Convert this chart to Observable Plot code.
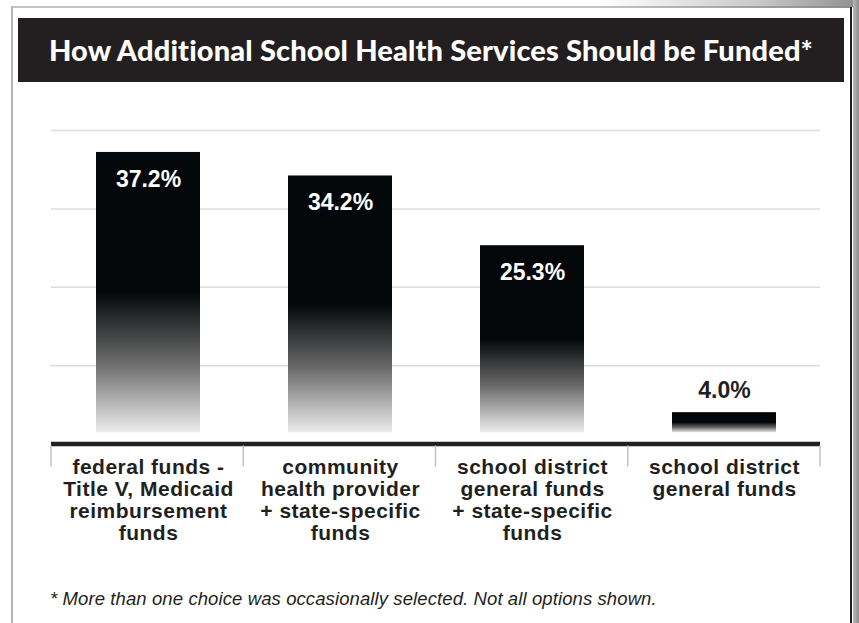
<!DOCTYPE html>
<html><head><meta charset="utf-8">
<script src="https://cdn.jsdelivr.net/npm/d3@7"></script>
<script src="https://cdn.jsdelivr.net/npm/@observablehq/plot@0.6"></script>
<style>
html,body{margin:0;padding:0;background:#fff;}
#page{position:relative;width:859px;height:623px;overflow:hidden;background:#fff;font-family:"Liberation Sans",Arial,sans-serif;}
.fr{position:absolute;}
#topline{left:11px;top:6px;width:841px;height:2px;background:linear-gradient(to right,#c4c4c4 0%,#c4c4c4 70%,#8a8a8a 100%);}
#topshadow{left:600px;top:0;width:259px;height:7px;background:linear-gradient(to right,rgba(150,150,150,0) 0%,rgba(150,150,150,0.5) 60%,#8f8f8f 100%);}
#leftline{left:11px;top:6px;width:2px;height:617px;background:#b4b4b4;}
#rightline{left:850px;top:7px;width:2px;height:616px;background:#1e1e1e;}
#rightshadow{left:853px;top:0;width:6px;height:623px;background:linear-gradient(to right,#b8b8b8,#8c8c8c);}
#title{position:absolute;left:18px;top:18px;width:826px;height:64px;background:#231f20;color:#fff;
  font-family:Lato,"Open Sans",sans-serif;font-weight:900;font-size:29px;line-height:64px;text-align:center;letter-spacing:0.15px;}
#chart{position:absolute;left:0;top:100px;}
#chart g[aria-label="x-axis tick label"] text{letter-spacing:0.5px;}
#note{position:absolute;left:50px;top:589px;font-family:"Liberation Sans",Arial,sans-serif;font-style:italic;font-size:18.5px;line-height:20px;letter-spacing:0.1px;color:#231f20;white-space:nowrap;}
</style></head><body>
<div id="page">
  <div class="fr" id="topshadow"></div>
  <div class="fr" id="topline"></div>
  <div class="fr" id="leftline"></div>
  <div class="fr" id="rightline"></div>
  <div class="fr" id="rightshadow"></div>
  <div id="title">How Additional School Health Services Should be Funded*</div>
  <div id="chart"></div>
  <div id="note">* More than one choice was occasionally selected. Not all options shown.</div>
</div>
<script>
const categories = [
  "federal funds - Title V, Medicaid reimbursement funds",
  "community health provider + state-specific funds",
  "school district general funds + state-specific funds",
  "school district general funds"
];
const tickLabels = [
  "federal funds -\nTitle V, Medicaid\nreimbursement\nfunds",
  "community\nhealth provider\n+ state-specific\nfunds",
  "school district\ngeneral funds\n+ state-specific\nfunds",
  "school district\ngeneral funds"
];
const values = [37.2, 34.2, 25.3, 4.0];
const valueLabels = ["37.2%", "34.2%", "25.3%", "4.0%"];
const gridTicks = [10, 20, 30, 40];

const data = categories.map((c, i) => ({category: c, value: values[i], label: valueLabels[i]}));

function separators(index, scales, vals, dims) {
  const {width, marginLeft, marginRight} = dims;
  const n = categories.length;
  const step = (width - marginLeft - marginRight) / n;
  const y0 = scales.y(0);
  const g = d3.create("svg:g").attr("stroke", "#c2c2c2").attr("stroke-width", 1.5);
  for (let i = 0; i <= n; i++) {
    const x = marginLeft + i * step;
    g.append("line").attr("x1", x).attr("x2", x).attr("y1", y0 + 2).attr("y2", y0 + 23);
  }
  return g.node();
}

const chart = Plot.plot({
  width: 859,
  height: 460,
  marginLeft: 51,
  marginRight: 39,
  marginTop: 30,
  marginBottom: 116.5,
  x: {domain: categories, paddingInner: 0.46, paddingOuter: 0.23, label: null},
  y: {domain: [0, 40], axis: null},
  style: {fontFamily: "Liberation Sans, Arial, sans-serif", background: "transparent", overflow: "visible"},
  marks: [
    Plot.ruleY(gridTicks, {stroke: "#dcdcdc", strokeWidth: 1.5}),
    Plot.barY(data, {x: "category", y: "value", fill: "url(#barFade)", insetBottom: 11}),
    Plot.text(data.filter(d => d.value >= 10), {x: "category", y: "value", text: "label", dy: 27, fill: "#ffffff", fontSize: 23, fontWeight: "bold"}),
    Plot.text(data.filter(d => d.value < 10), {x: "category", y: "value", text: "label", dy: -22, fill: "#231f20", fontSize: 23, fontWeight: "bold"}),
    Plot.ruleY([0], {stroke: "#231f20", strokeWidth: 4.5}),
    Plot.axisX({tickSize: 0, tickPadding: 14, tickFormat: d => tickLabels[categories.indexOf(d)],
      fontSize: 21, fontWeight: "bold", fill: "#231f20", lineHeight: 1.05, label: null}),
    separators
  ]
});

const defs = d3.select(chart).insert("defs", ":first-child");
const grad = defs.append("linearGradient").attr("id", "barFade")
  .attr("x1", 0).attr("y1", 0).attr("x2", 0).attr("y2", 1);
grad.append("stop").attr("offset", 0).attr("stop-color", "#04070a");
grad.append("stop").attr("offset", 0.5).attr("stop-color", "#04070a");
grad.append("stop").attr("offset", 0.75).attr("stop-color", "#6a6a6a");
grad.append("stop").attr("offset", 1).attr("stop-color", "#ededed");

document.getElementById("chart").appendChild(chart);
</script>
</body></html>
